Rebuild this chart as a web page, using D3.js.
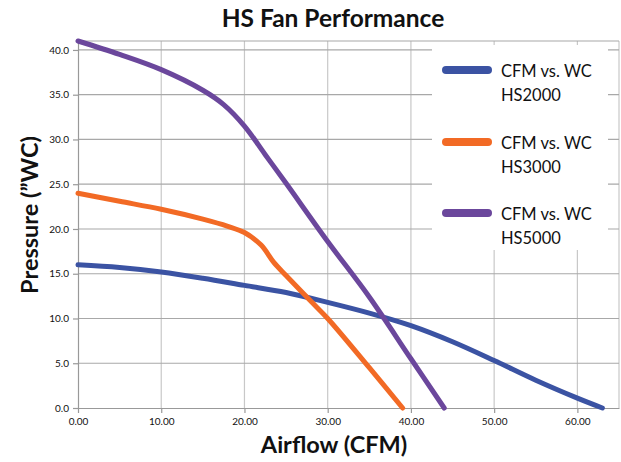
<!DOCTYPE html>
<html>
<head>
<meta charset="utf-8">
<script src="https://cdn.jsdelivr.net/npm/d3@7"></script>
<style>
  html, body { margin: 0; padding: 0; background: #fff; }
  svg { display: block; }
</style>
</head>
<body>
<svg id="chart" width="621" height="462"></svg>
<script>
// ---- data ----
const seriesNames = ["CFM vs. WC HS2000", "CFM vs. WC HS3000", "CFM vs. WC HS5000"];
const legendLine1 = ["CFM vs. WC", "CFM vs. WC", "CFM vs. WC"];
const legendLine2 = ["HS2000", "HS3000", "HS5000"];
const seriesColors = ["#3b53a3", "#f26a25", "#6b479c"];

const hs2000X = [0, 5, 10, 15, 20, 25, 30, 35, 40, 45, 50, 55, 60, 63];
const hs2000Y = [16.0, 15.7, 15.2, 14.5, 13.7, 12.9, 11.8, 10.6, 9.2, 7.4, 5.3, 3.1, 1.1, 0];

const hs3000X = [0, 5, 10, 15, 18, 20, 22, 23.5, 25, 27.9, 30, 35, 39];
const hs3000Y = [24.0, 23.1, 22.2, 21.1, 20.3, 19.6, 18.2, 16.3, 14.8, 12.0, 10.0, 4.5, 0];

const hs5000X = [0, 5, 10, 15, 17.5, 20, 22.5, 25, 30, 35, 40, 44];
const hs5000Y = [41.0, 39.5, 37.8, 35.5, 33.9, 31.5, 28.3, 25.1, 18.6, 12.4, 5.5, 0];

const xTicks = [0, 10, 20, 30, 40, 50, 60];
const yTicks = [0, 5, 10, 15, 20, 25, 30, 35, 40];
const xDomain = [0, 65];
const yDomain = [0, 41];

const titleText = "HS Fan Performance";
const xTitle = "Airflow (CFM)";
const yTitle = "Pressure (\u201DWC)";

// ---- layout ----
const svg = d3.select("#chart");
const pL = 78, pR = 619, pT = 41, pB = 408;
const x = d3.scaleLinear().domain(xDomain).range([pL, pR]);
const y = d3.scaleLinear().domain(yDomain).range([pB, pT]);
const FONT = "Lato, 'Open Sans', sans-serif";

// vertical gridlines
svg.append("g").selectAll("line").data(xTicks.filter(d => d > 0)).join("line")
  .attr("x1", d => x(d)).attr("x2", d => x(d))
  .attr("y1", pT).attr("y2", pB)
  .attr("stroke", "#c8c8c8").attr("stroke-width", 1.2);
// right border
svg.append("line").attr("x1", pR).attr("x2", pR).attr("y1", pT).attr("y2", pB)
  .attr("stroke", "#c8c8c8").attr("stroke-width", 1.2);
// horizontal gridlines
svg.append("g").selectAll("line").data(yTicks.filter(d => d > 0)).join("line")
  .attr("x1", pL).attr("x2", pR)
  .attr("y1", d => y(d)).attr("y2", d => y(d))
  .attr("stroke", "#a8a8a8").attr("stroke-width", 1.2);
// top border
svg.append("line").attr("x1", pL).attr("x2", pR).attr("y1", pT).attr("y2", pT)
  .attr("stroke", "#a8a8a8").attr("stroke-width", 1.2);

// axes
const xAxis = svg.append("g").attr("transform", `translate(0,${pB})`)
  .call(d3.axisBottom(x).tickValues(xTicks).tickFormat(d3.format(".2f")).tickSizeInner(5).tickSizeOuter(0).tickPadding(5));
const yAxis = svg.append("g").attr("transform", `translate(${pL},0)`)
  .call(d3.axisLeft(y).tickValues(yTicks).tickFormat(d3.format(".1f")).tickSizeInner(5).tickSizeOuter(0).tickPadding(4));
[xAxis, yAxis].forEach(g => {
  g.select(".domain").attr("stroke", "#999").attr("stroke-width", 1.2);
  g.selectAll(".tick line").attr("stroke", "#999").attr("stroke-width", 1.2);
  g.selectAll(".tick text").attr("fill", "#111").style("font-family", FONT).style("font-size", "10px");
});

// legend background
svg.append("rect").attr("x", 432).attr("y", 45).attr("width", 176).attr("height", 205).attr("fill", "#fff");

// lines
const lineGen = d3.line().x(d => x(d[0])).y(d => y(d[1])).curve(d3.curveCatmullRom.alpha(0.5));
const series = [
  d3.zip(hs2000X, hs2000Y),
  d3.zip(hs3000X, hs3000Y),
  d3.zip(hs5000X, hs5000Y)
];
svg.append("g").selectAll("path").data(series).join("path")
  .attr("d", lineGen)
  .attr("fill", "none")
  .attr("stroke", (d, i) => seriesColors[i])
  .attr("stroke-width", 5)
  .attr("stroke-linecap", "round")
  .attr("stroke-linejoin", "round");

// legend
const lg = svg.append("g");
const legendY = [70, 142, 213];
seriesNames.forEach((name, i) => {
  lg.append("line").attr("x1", 446).attr("x2", 488).attr("y1", legendY[i]).attr("y2", legendY[i])
    .attr("stroke", seriesColors[i]).attr("stroke-width", 8).attr("stroke-linecap", "round");
  lg.append("text").attr("x", 501).attr("y", legendY[i] + 7).text(legendLine1[i])
    .style("font-family", FONT).style("font-size", "16.5px").attr("fill", "#111");
  lg.append("text").attr("x", 501).attr("y", legendY[i] + 31).text(legendLine2[i])
    .style("font-family", FONT).style("font-size", "16.5px").attr("fill", "#111");
});

// titles
svg.append("text").attr("x", 333).attr("y", 27).attr("text-anchor", "middle").text(titleText)
  .style("font-family", FONT).style("font-weight", "bold").style("font-size", "24.5px").attr("fill", "#111");
svg.append("text").attr("x", 334).attr("y", 453).attr("text-anchor", "middle").text(xTitle)
  .style("font-family", FONT).style("font-weight", "bold").style("font-size", "23.5px").attr("fill", "#111");
svg.append("text").attr("transform", "translate(38,215) rotate(-90)").attr("text-anchor", "middle").text(yTitle)
  .style("font-family", FONT).style("font-weight", "bold").style("font-size", "23.5px").attr("fill", "#111");
</script>
</body>
</html>
